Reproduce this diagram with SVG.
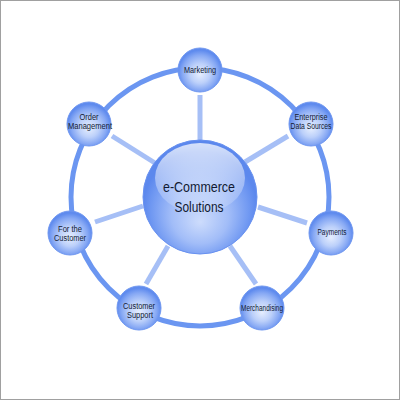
<svg xmlns="http://www.w3.org/2000/svg" width="400" height="400" viewBox="0 0 400 400">
<defs>
<radialGradient id="sat" cx="0.5" cy="0.55" r="0.5" fx="0.5" fy="0.6">
<stop offset="0" stop-color="#e6eefe"/>
<stop offset="0.45" stop-color="#bcd0fa"/>
<stop offset="0.8" stop-color="#86a8f4"/>
<stop offset="1" stop-color="#5f8bee"/>
</radialGradient>
<radialGradient id="hub" cx="0.5" cy="0.6" r="0.5" fx="0.5" fy="0.72">
<stop offset="0" stop-color="#cddcfc"/>
<stop offset="0.5" stop-color="#a2bdf8"/>
<stop offset="0.85" stop-color="#7199f2"/>
<stop offset="1" stop-color="#5c88ed"/>
</radialGradient>
<linearGradient id="gloss" x1="0" y1="0" x2="0" y2="1">
<stop offset="0" stop-color="#ffffff" stop-opacity="0.75"/>
<stop offset="1" stop-color="#ffffff" stop-opacity="0.1"/>
</linearGradient>
</defs>
<style>
.ring{fill:none;stroke:#6b96f1;stroke-width:5}
.spoke{stroke:#a6bff6;stroke-width:5;stroke-linecap:butt}
.spk2{stroke:#c4d5fa;stroke-width:1.5}
.sat{fill:url(#sat);stroke:#6f97f0;stroke-width:1}
.lbl{font-family:"Liberation Sans",Arial,sans-serif;font-size:8.5px;fill:#111a33;text-anchor:middle}
.hubt{font-family:"Liberation Sans",Arial,sans-serif;font-size:15px;fill:#111a33;text-anchor:middle}
</style>
<rect x="0.5" y="0.5" width="399" height="399" fill="#ffffff" stroke="#a0a0a0" stroke-width="1"/>
<g id="connectors">
<circle class="ring" cx="200" cy="197" r="129"/>
<line class="spoke" x1="200" y1="95" x2="200" y2="140"/>
<line class="spoke" x1="112" y1="136" x2="155" y2="163"/>
<line class="spoke" x1="288" y1="136" x2="245" y2="162"/>
<line class="spoke" x1="95" y1="222" x2="143" y2="206"/>
<line class="spoke" x1="307" y1="223" x2="258" y2="207"/>
<line class="spoke" x1="146" y1="284" x2="168" y2="246"/>
<line class="spoke" x1="256" y1="284" x2="230" y2="246"/>
</g>
<g id="hub">
<circle cx="200" cy="197" r="57" fill="url(#hub)" stroke="#6891f0" stroke-width="1"/>
<ellipse cx="200" cy="178" rx="45" ry="35" fill="url(#gloss)"/>
<text class="hubt" x="199" y="192" textLength="72" lengthAdjust="spacingAndGlyphs">e-Commerce</text>
<text class="hubt" x="199" y="212" textLength="49" lengthAdjust="spacingAndGlyphs">Solutions</text>
</g>
<g id="marketing">
<circle class="sat" cx="200" cy="70" r="22"/>
<text class="lbl" x="200" y="73" textLength="32" lengthAdjust="spacingAndGlyphs">Marketing</text>
</g>
<g id="order-management">
<circle class="sat" cx="89" cy="124" r="22"/>
<text class="lbl" x="89" y="120" textLength="19" lengthAdjust="spacingAndGlyphs">Order</text>
<text class="lbl" x="90" y="129" textLength="44" lengthAdjust="spacingAndGlyphs">Management</text>
</g>
<g id="enterprise-data-sources">
<circle class="sat" cx="311" cy="124" r="22"/>
<text class="lbl" x="311" y="120" textLength="33" lengthAdjust="spacingAndGlyphs">Enterprise</text>
<text class="lbl" x="311" y="129" textLength="41" lengthAdjust="spacingAndGlyphs">Data Sources</text>
</g>
<g id="for-the-customer">
<circle class="sat" cx="70" cy="233" r="22"/>
<text class="lbl" x="70" y="232" textLength="24" lengthAdjust="spacingAndGlyphs">For the</text>
<text class="lbl" x="70" y="241" textLength="32" lengthAdjust="spacingAndGlyphs">Customer</text>
</g>
<g id="payments">
<circle class="sat" cx="331" cy="233" r="22"/>
<text class="lbl" x="332" y="235" textLength="29" lengthAdjust="spacingAndGlyphs">Payments</text>
</g>
<g id="customer-support">
<circle class="sat" cx="139" cy="308" r="22"/>
<text class="lbl" x="139" y="309" textLength="32" lengthAdjust="spacingAndGlyphs">Customer</text>
<text class="lbl" x="140" y="318" textLength="26" lengthAdjust="spacingAndGlyphs">Support</text>
</g>
<g id="merchandising">
<circle class="sat" cx="262" cy="308" r="22"/>
<text class="lbl" x="262" y="311" textLength="42" lengthAdjust="spacingAndGlyphs">Merchandising</text>
</g>
</svg>
